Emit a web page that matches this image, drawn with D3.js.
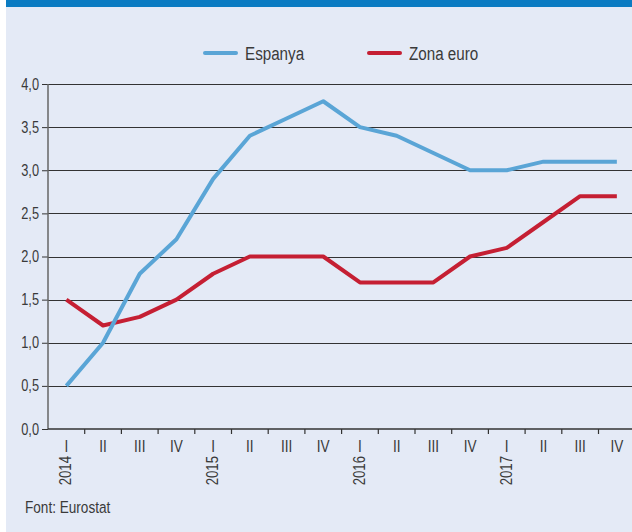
<!DOCTYPE html>
<html>
<head>
<meta charset="utf-8">
<script src="https://cdn.jsdelivr.net/npm/d3@7"></script>
<style>
  body { margin: 0; background: #ffffff; }
  svg text { font-family: "Liberation Sans", Arial, sans-serif; fill: #3a3a3a; }
</style>
</head>
<body>
<script>
// quarters and values (inflation, %)
var quarters = ["2014-I", "2014-II", "2014-III", "2014-IV",
                "2015-I", "2015-II", "2015-III", "2015-IV",
                "2016-I", "2016-II", "2016-III", "2016-IV",
                "2017-I", "2017-II", "2017-III", "2017-IV"];
var quarterLabels = ["I", "II", "III", "IV", "I", "II", "III", "IV",
                     "I", "II", "III", "IV", "I", "II", "III", "IV"];
var years = ["2014", "2015", "2016", "2017"];
var espanya = [0.5, 1.0, 1.8, 2.2, 2.9, 3.4, 3.6, 3.8, 3.5, 3.4, 3.2, 3.0, 3.0, 3.1, 3.1, 3.1];
var zonaEuro = [1.5, 1.2, 1.3, 1.5, 1.8, 2.0, 2.0, 2.0, 1.7, 1.7, 1.7, 2.0, 2.1, 2.4, 2.7, 2.7];
var yTicks = [0, 0.5, 1, 1.5, 2, 2.5, 3, 3.5, 4];

var width = 632, height = 532;
var squeeze = 0.8; // condensed look

var svg = d3.select("body").append("svg")
    .attr("width", width)
    .attr("height", height);

// squeeze text horizontally around its anchor point
function narrow(sel) {
    sel.each(function () {
        var t = d3.select(this);
        var x = +t.attr("x") || 0, y = +t.attr("y") || 0;
        var tr = t.attr("transform") || "";
        t.attr("x", 0).attr("y", 0)
         .attr("transform", tr + " translate(" + x + "," + y + ") scale(" + squeeze + ",1)");
    });
}

// background panel and top band
svg.append("rect").attr("x", 6).attr("y", 0).attr("width", width - 6).attr("height", height).attr("fill", "#e4eaf6");
svg.append("rect").attr("x", 6).attr("y", 0).attr("width", width - 6).attr("height", 7).attr("fill", "#0a7bc2");

var xScale = d3.scaleBand().domain(quarters).range([48, 48 + 16 * 36.7]).padding(0);
var yScale = d3.scaleLinear().domain([0, 4]).range([429, 84]);
var fmt = function (d) { return d3.format(".1f")(d).replace(".", ","); };

// y ticks + labels
var yAxis = svg.append("g").attr("transform", "translate(48,0)")
    .call(d3.axisLeft(yScale).tickValues(yTicks).tickFormat(fmt).tickSize(6).tickPadding(3));
yAxis.select(".domain").remove();
yAxis.selectAll(".tick text").attr("font-size", 16).attr("fill", "#3a3a3a").call(narrow);
yAxis.selectAll(".tick line").attr("stroke", "#333");

// gridlines
svg.append("g").selectAll("line").data(yTicks.filter(function (d) { return d > 0; }))
    .enter().append("line")
    .attr("x1", 48).attr("x2", width)
    .attr("y1", function (d) { return Math.round(yScale(d)) + 0.5; })
    .attr("y2", function (d) { return Math.round(yScale(d)) + 0.5; })
    .attr("stroke", "#333").attr("stroke-width", 1);

// axes lines
svg.append("line").attr("x1", 48).attr("x2", 48).attr("y1", 84).attr("y2", 429)
    .attr("stroke", "#666").attr("stroke-width", 1.5);
svg.append("line").attr("x1", 48).attr("x2", width).attr("y1", 429).attr("y2", 429)
    .attr("stroke", "#333").attr("stroke-width", 1.5);

// x ticks at band boundaries
var bounds = quarters.map(function (q) { return xScale(q); });
svg.append("g").selectAll("line").data(bounds.slice(1)).enter().append("line")
    .attr("x1", function (d) { return d; }).attr("x2", function (d) { return d; })
    .attr("y1", 429).attr("y2", 434).attr("stroke", "#333").attr("stroke-width", 1.2);

// quarter labels
svg.append("g").selectAll("text").data(quarters).enter().append("text")
    .attr("x", function (d) { return xScale(d) + xScale.bandwidth() / 2; })
    .attr("y", 452)
    .attr("text-anchor", "middle")
    .attr("font-size", 17)
    .text(function (d, i) { return quarterLabels[i]; })
    .call(narrow);

// year labels (rotated)
svg.append("g").selectAll("text").data(years).enter().append("text")
    .attr("transform", function (d) {
        var cx = xScale(d + "-I") + xScale.bandwidth() / 2 + 5;
        return "translate(" + cx + ",456) rotate(-90) scale(" + squeeze + ",1)";
    })
    .attr("text-anchor", "end")
    .attr("font-size", 16.5)
    .text(function (d) { return d; });

// lines
var line = d3.line()
    .x(function (d, i) { return xScale(quarters[i]) + xScale.bandwidth() / 2; })
    .y(function (d) { return yScale(d); });

svg.append("path").datum(zonaEuro).attr("d", line)
    .attr("fill", "none").attr("stroke", "#c51f33").attr("stroke-width", 4).attr("stroke-linejoin", "round");
svg.append("path").datum(espanya).attr("d", line)
    .attr("fill", "none").attr("stroke", "#5aa5d6").attr("stroke-width", 4).attr("stroke-linejoin", "round");

// legend
var legend = [{name: "Espanya", color: "#5aa5d6", x: 205}, {name: "Zona euro", color: "#c51f33", x: 369}];
var lg = svg.append("g").selectAll("g").data(legend).enter().append("g");
lg.append("line").attr("x1", function (d) { return d.x; }).attr("x2", function (d) { return d.x + 31; })
    .attr("y1", 53).attr("y2", 53)
    .attr("stroke", function (d) { return d.color; }).attr("stroke-width", 4).attr("stroke-linecap", "round");
lg.append("text").attr("x", function (d) { return d.x + 40; }).attr("y", 60)
    .attr("font-size", 19).attr("fill", "#222")
    .text(function (d) { return d.name; })
    .call(narrow);

// source
svg.append("text").attr("x", 25).attr("y", 513).attr("font-size", 17).text("Font: Eurostat").call(narrow);
</script>
</body>
</html>
